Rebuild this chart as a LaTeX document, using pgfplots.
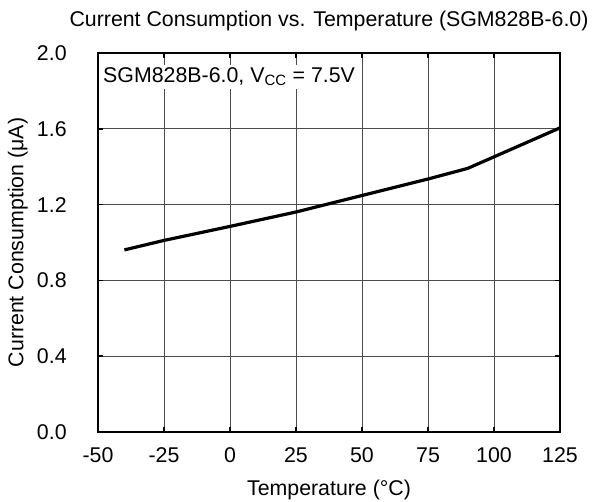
\documentclass[border=0pt]{standalone}
\usepackage{pgfplots}
\pgfplotsset{compat=1.18}
\usepackage{fontspec}
\setmainfont{Liberation Sans}
\begin{document}
\begin{tikzpicture}
\fontsize{16}{19}\selectfont
\begin{axis}[
  at={(0,0)}, anchor=south west,
  scale only axis,
  width=346.5pt, height=284.25pt,
  xmin=-50, xmax=125, ymin=0, ymax=2.0,
  xtick={-50,-25,...,125},
  ytick={0,0.4,0.8,1.2,1.6,2.0},
  yticklabel style={/pgf/number format/fixed,/pgf/number format/fixed zerofill,/pgf/number format/precision=1, xshift=-18pt},
  /pgf/number format/assume math mode=true,
  tick label style={font=\fontsize{16}{19}\selectfont},
  label style={font=\fontsize{16}{19}\selectfont},
  title style={font=\fontsize{16}{19}\selectfont, yshift=5pt},
  title={Current Consumption vs. Temperature (SGM828B-6.0)},
  xlabel={Temperature (°C)},
  ylabel={Current Consumption (μA)},
  ylabel shift=-4pt,
  xlabel shift=2pt,
  grid=major,
  major grid style={black!70, line width=0.6pt},
  axis line style={black, line width=1.5pt},
  tick style={black, line width=1.2pt},
  tick align=inside,
  major tick length=4pt,
  xticklabel style={yshift=-6pt},
]
\addplot[black, line width=2.4pt] coordinates {
(-40,0.961) (-25,1.011) (0,1.085) (25,1.161) (50,1.248) (75,1.335) (90,1.391) (100,1.452) (125,1.605)
};
\node[anchor=west, fill=white, inner sep=2pt] at (rel axis cs:0.005,0.937) {SGM828B-6.0, V\textsubscript{CC} = 7.5V};
\end{axis}
\pgfresetboundingbox
\path (-73.5pt,-51.75pt) rectangle (372.75pt,324pt);
\end{tikzpicture}
\end{document}
